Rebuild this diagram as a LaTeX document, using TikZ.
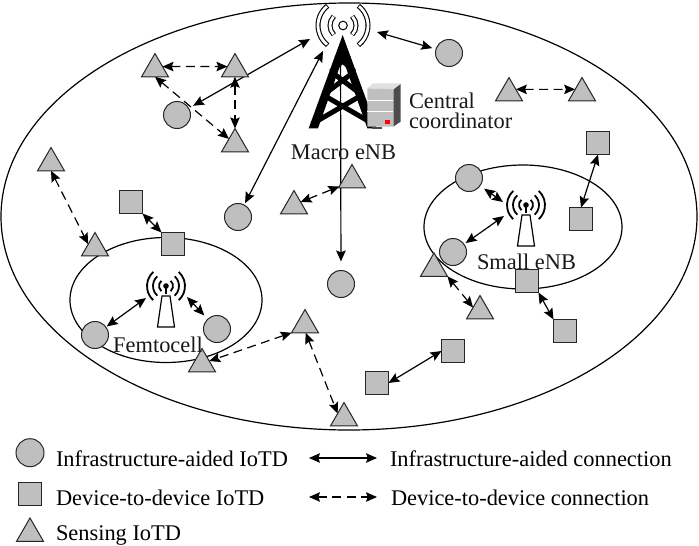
\documentclass[tikz,border=0pt]{standalone}
\usepackage{fontspec}
\setmainfont{Liberation Serif}
\usetikzlibrary{arrows.meta,shapes.geometric,backgrounds}
\definecolor{dev}{HTML}{BFBFBF}
\definecolor{edge}{HTML}{262626}
\tikzset{
  x=1pt,y=-1pt,
  every node/.style={inner sep=0pt,outer sep=0pt},
  circdev/.style={circle,draw=edge,fill=dev,line width=1pt,minimum size=27pt},
  sqdev/.style={rectangle,draw=edge,fill=dev,line width=1pt,minimum size=23pt},
  tridev/.style={regular polygon,regular polygon sides=3,draw=edge,fill=dev,line width=1pt,minimum size=31pt},
  lbl/.style={font=\fontsize{22.4}{20}\selectfont,text=black!90},
  leg/.style={font=\fontsize{22.4}{22}\selectfont,anchor=west,text=black},
  boundary/.style={draw=black,line width=1.2pt},
  headtip/.style={{Stealth[length=11pt,width=9.5pt,inset=1.8pt]}-{Stealth[length=11pt,width=9.5pt,inset=1.8pt]}},
  infra/.style={headtip,line width=1.2pt,draw=black},
  d2d/.style={headtip,line width=1.2pt,draw=black,dash pattern=on 9pt off 5.5pt},
  smallant/.pic={
    \foreach \r in {7,13,19}{
      \draw[line width=1.8pt] (48:\r pt) arc[start angle=48,end angle=-48,radius=\r pt];
      \draw[line width=1.8pt] (132:\r pt) arc[start angle=132,end angle=228,radius=\r pt];
    }
    \fill (0,0) circle[radius=2.8pt];
    \draw[line width=1.2pt] (0,0) -- (0,8);
    \draw[line width=1.2pt,fill=white] (-4,10) -- (4,10) -- (8.5,41) -- (-8.5,41) -- cycle;
  }
}
\begin{document}
\begin{tikzpicture}
\useasboundingbox (0,0) rectangle (699,546);
% circles
\node[circdev] (c1) at (449,53) {};
\node[circdev] (c2) at (177,115) {};
\node[circdev] (c3) at (238,217) {};
\node[circdev] (c4) at (341,284) {};
\node[circdev] (c5) at (469,178) {};
\node[circdev] (c6) at (453,252) {};
\node[circdev] (c7) at (95,335) {};
\node[circdev] (c8) at (217,329) {};
% squares
\node[sqdev] (s1) at (131,202) {};
\node[sqdev] (s2) at (173,244) {};
\node[sqdev] (s3) at (598,143) {};
\node[sqdev] (s4) at (581,219) {};
\node[sqdev] (s5) at (527,281) {};
\node[sqdev] (s6) at (565,331) {};
\node[sqdev] (s7) at (453,351) {};
\node[sqdev] (s8) at (377,383) {};
% triangles
\node[tridev] (t1) at (155,69) {};
\node[tridev] (t2) at (235,69) {};
\node[tridev] (t3) at (235,144) {};
\node[tridev] (t4) at (51,163) {};
\node[tridev] (t5) at (95,248) {};
\node[tridev] (t6) at (294,206) {};
\node[tridev] (t7) at (352,180) {};
\node[tridev] (t8) at (509,93) {};
\node[tridev] (t9) at (582,93) {};
\node[tridev] (t10) at (434,268.5) {};
\node[tridev] (t11) at (480,311) {};
\node[tridev] (t12) at (305,325) {};
\node[tridev] (t13) at (202,364) {};
\node[tridev] (t14) at (344,418) {};
% free ends
\coordinate (mA) at (377,32);
\coordinate (mB) at (310,39);
\coordinate (mC) at (323,51);
\coordinate (mD) at (340.5,45);
\coordinate (fA) at (146,298);
\coordinate (fB) at (187,297);
\coordinate (eA) at (503,202);
\coordinate (eB) at (504,216);
% macro tower
\begin{scope}[shift={(270,0)},scale=1/3]
  \fill[black] (218,105) -- (116,385) -- (144,385) -- (218,175) -- (292,385) -- (320,385) -- cycle;
  \draw[line width=5pt] (199,165) -- (253,215) (237,165) -- (183,215)
    (183,215) -- (276,285) (253,215) -- (160,285)
    (160,285) -- (310,372) (276,285) -- (126,372);
  % server
  \fill[gray!60!black] (370,268) -- (392,252) -- (392,365) -- (370,380) -- cycle;
  \fill[black!70] (305,380) -- (335,380) -- (335,386) -- (305,386) -- cycle;
  \fill[black!12] (292,265) -- (310,250) -- (392,250) -- (370,268) -- cycle;
  \fill[dev] (292,265) -- (370,268) -- (370,380) -- (292,380) -- cycle;
  \draw[white,line width=1pt] (292,303) -- (370,303) (292,335) -- (370,335);
  \fill[red] (345,360) rectangle (360,372);
\end{scope}
% macro antenna
\begin{scope}[shift={(343,25.5)}]
  \draw[line width=1pt,fill=white] (0,0) circle[radius=4.3pt];
  \foreach \r/\a/\b in {13/45/43,25/52/50}{
    \draw[line width=5pt] (\a:\r pt) arc[start angle=\a,end angle=-\a,radius=\r pt];
    \draw[line width=5pt] ({180-\a}:\r pt) arc[start angle={180-\a},end angle={180+\a},radius=\r pt];
    \draw[white,line width=2.8pt] (\b:\r pt) arc[start angle=\b,end angle=-\b,radius=\r pt];
    \draw[white,line width=2.8pt] ({180-\b}:\r pt) arc[start angle={180-\b},end angle={180+\b},radius=\r pt];
  }
\end{scope}
% small antennas
\pic at (166,286) {smallant};
\pic at (526,205) {smallant};
% texts
\node[lbl] (macro) at (343.5,152) {Macro eNB};
\node[lbl,anchor=west,align=left] (central) at (409,111) {Central\\coordinator};
\node[lbl] (femto) at (158,345) {Femtocell};
\node[lbl] (small) at (526.5,262) {Small eNB};
% legend
\node[circdev,minimum size=28pt] (lc) at (30,452.7) {};
\node[sqdev] (ls) at (29.5,494) {};
\node[tridev] (lt) at (30,533.5) {};
\node[leg] (l1) at (56,459) {Infrastructure-aided IoTD};
\node[leg] (l2) at (56,498) {Device-to-device IoTD};
\node[leg] (l3) at (56,535) {Sensing IoTD};
\node[leg] (l4) at (390,459) {Infrastructure-aided connection};
\node[leg] (l5) at (391,498) {Device-to-device connection};
\coordinate (la1) at (309,458);
\coordinate (la2) at (377,458);
\coordinate (lb1) at (309,497);
\coordinate (lb2) at (377,497);
\begin{scope}[on background layer]
  \fill[white] (0,0) rectangle (699,546);
  \draw[boundary] (349,216.5) ellipse [x radius=348pt,y radius=213.5pt];
  \draw[boundary] (166,300) ellipse [x radius=96pt,y radius=62.5pt];
  \draw[boundary] (523,227) ellipse [x radius=99pt,y radius=62pt];
  % infrastructure links
  \draw[infra,shorten <=4pt] (c1) -- (mA);
  \draw[infra,shorten <=5pt] (c2) -- (mB);
  \draw[infra,shorten <=2pt] (c3) -- (mC);
  \draw[-{Stealth[length=11pt,width=9.5pt,inset=1.8pt]},line width=1.2pt,shorten >=9pt] (mD) -- (c4);
  \draw[infra,shorten <=1pt] (c7) -- (fA);
  \draw[infra,shorten <=5pt] (c8) -- (fB);
  \draw[infra,shorten <=5pt] (c5) -- (eA);
  \draw[infra,shorten <=2pt] (c6) -- (eB);
  \draw[infra] (s1.south east) -- (s2.north west);
  \draw[infra] (s3.south) -- (s4.north);
  \draw[infra] (s5.south east) -- (s6.north west);
  \draw[infra] (s8.east) -- (s7.west);
  % device links
  \draw[d2d] (t1.18) -- (t2.162);
  \draw[d2d] (t2) -- (t3);
  \draw[d2d] (t1.270) -- (t3.140);
  \draw[d2d] (t4.270) -- (t5.151);
  \draw[d2d] (t6.31) -- (t7.207);
  \draw[d2d] (t8.28) -- (t9.152);
  \draw[d2d] (t10.330) -- (t11.153);
  \draw[d2d] (t12.210) -- (t13.22);
  \draw[d2d] (t12.275) -- (t14.145);
  % legend links
  \draw[infra] (la1) -- (la2);
  \draw[d2d] (lb1) -- (lb2);
\end{scope}
\end{tikzpicture}
\end{document}
